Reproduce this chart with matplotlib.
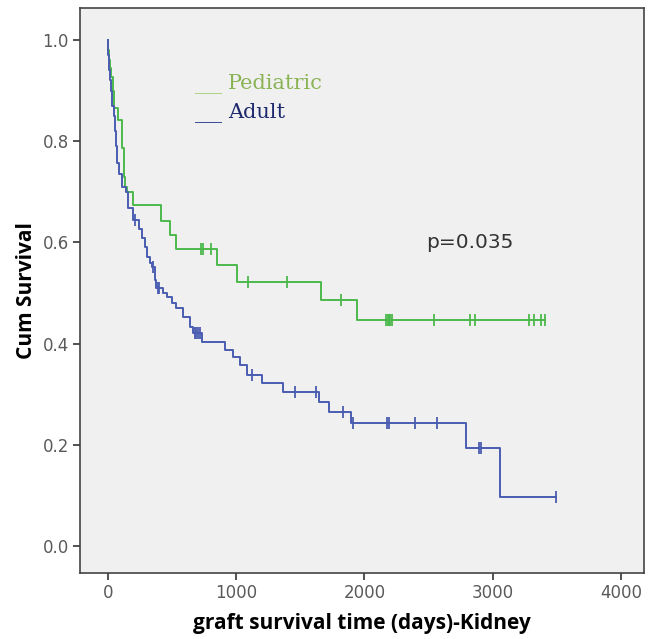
import numpy as np
from matplotlib import pyplot as plt

# Kaplan-Meier steps (days, survival after the drop)
ped_event_days = [3, 8, 15, 25, 39, 45, 78, 110, 122, 126, 130, 148, 195, 410,
                  480, 530, 850, 1010, 1665, 1940]
ped_surv = [0.98, 0.96, 0.945, 0.927, 0.90, 0.866, 0.842, 0.787, 0.76, 0.73,
            0.71, 0.70, 0.674, 0.642, 0.615, 0.587, 0.555, 0.522, 0.486, 0.447]
ped_censored = [725, 740, 800, 1090, 1395, 1815, 2170, 2180, 2190, 2200, 2215,
                2540, 2825, 2860, 3280, 3325, 3375, 3410]

adu_event_days = [2, 5, 10, 18, 25, 35, 45, 55, 62, 70, 85, 110, 140, 160, 195,
                  240, 265, 285, 303, 325, 342, 366, 378, 430, 459, 498, 530,
                  584, 638, 661, 732, 910, 973, 1027, 1082, 1198, 1362, 1642,
                  1720, 1899, 2794, 3058]
adu_surv = [0.97, 0.955, 0.94, 0.92, 0.90, 0.87, 0.85, 0.82, 0.79, 0.757,
            0.735, 0.71, 0.70, 0.668, 0.644, 0.626, 0.609, 0.59, 0.571, 0.56,
            0.551, 0.526, 0.51, 0.50, 0.492, 0.48, 0.47, 0.453, 0.433, 0.421,
            0.403, 0.387, 0.374, 0.358, 0.338, 0.322, 0.304, 0.285, 0.265,
            0.243, 0.194, 0.097]
adu_censored = [210, 350, 392, 400, 677, 690, 700, 716, 1120, 1460, 1625, 1829,
                1910, 2179, 2190, 2397, 2568, 2895, 2905, 3494]

x_ticks = [0, 1000, 2000, 3000, 4000]
y_ticks = [0.0, 0.2, 0.4, 0.6, 0.8, 1.0]

GREEN = "#4cb84c"
BLUE = "#4a5cb0"


def km_curve(ax, days, surv, censored, color):
    end = max(max(censored), max(days))
    t = np.concatenate([[0], days, [end]])
    s = np.concatenate([[1.0], surv, [surv[-1]]])
    ax.step(t, s, where="post", color=color, lw=1.4)
    idx = np.searchsorted(days, censored, side="right")
    cs = np.concatenate([[1.0], surv])[idx]
    ax.plot(censored, cs, ls="none", marker="|", ms=9, mew=1.3, color=color)


fig = plt.figure(figsize=(6.49, 6.39), dpi=100)
ax = fig.add_axes([0.1233, 0.1033, 0.8690, 0.8842])
ax.set_facecolor("#f0f0f0")

km_curve(ax, ped_event_days, ped_surv, ped_censored, GREEN)
km_curve(ax, adu_event_days, adu_surv, adu_censored, BLUE)

ax.set_xlim(-218, 4180)
ax.set_ylim(-0.053, 1.063)
ax.set_xticks(x_ticks)
ax.set_xticklabels([str(v) for v in x_ticks])
ax.set_yticks(y_ticks)
ax.set_yticklabels([f"{v:.1f}" for v in y_ticks])
ax.tick_params(direction="out", length=5, width=1.2, color="#333333",
               labelcolor="#5a5a5a", labelsize=12, pad=3)
for sp in ax.spines.values():
    sp.set_color("#444444")
    sp.set_linewidth(1.2)

ax.set_xlabel("graft survival time (days)-Kidney", fontsize=15,
              fontweight="bold", family="Open Sans", labelpad=8)
ax.set_ylabel("Cum Survival", fontsize=15, fontweight="bold",
              family="Open Sans", labelpad=4)

# legend drawn as text, as in the source figure
leg_font = dict(transform=ax.transAxes, fontsize=15, family="DejaVu Serif",
                va="baseline")
bar_font = dict(leg_font, fontsize=13)
ax.text(0.203, 0.857, "___", color="#a9cf7a", **bar_font)
ax.text(0.262, 0.857, "Pediatric", color="#8ab356", **leg_font)
ax.text(0.203, 0.805, "___", color="#2c3f8f", **bar_font)
ax.text(0.262, 0.805, "Adult", color="#1e2a6e", **leg_font)

ax.text(2482, 0.588, "p=0.035", color="#333333", fontsize=14.5,
        family="DejaVu Sans")

fig.savefig("out.png", dpi=100)
